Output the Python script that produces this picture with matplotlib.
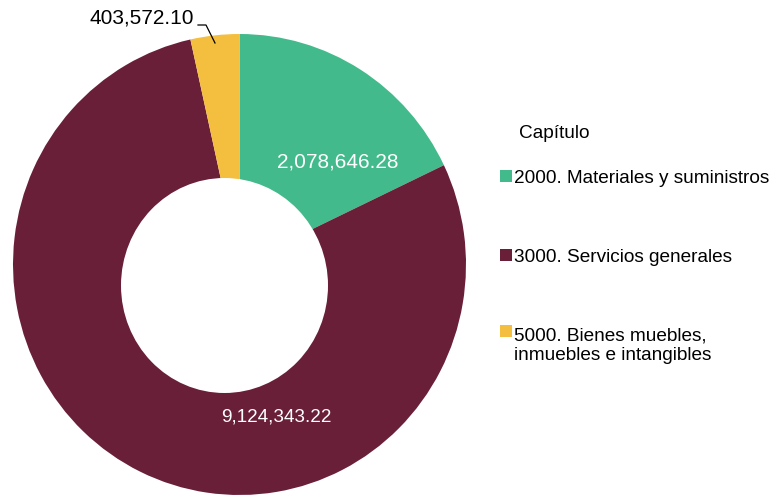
import matplotlib
matplotlib.use("Agg")
import matplotlib.pyplot as plt
from matplotlib.patches import Ellipse, Rectangle

categories = ["2000. Materiales y suministros", "3000. Servicios generales",
              "5000. Bienes muebles,\ninmuebles e intangibles"]
values = [2078646.28, 9124343.22, 403572.10]
value_labels = ["2,078,646.28", "9,124,343.22", "403,572.10"]
colors = ["#43BA8B", "#6A1F38", "#F4BE3E"]
legend_title = "Capítulo"

plt.rcParams['font.family'] = ['Liberation Sans', 'DejaVu Sans']

W, H = 776, 497
fig = plt.figure(figsize=(W / 100, H / 100), dpi=100)

# outer pie extents in pixels (left, right, top, bottom)
L, R, T, B = 13, 466, 34, 495
ax = fig.add_axes([L / W, (H - B) / H, (R - L) / W, (B - T) / H])
wedges, _ = ax.pie(values, colors=colors, startangle=90, counterclock=False,
                   radius=1.0, wedgeprops=dict(linewidth=0))
ax.set_xlim(-1, 1)
ax.set_ylim(-1, 1)
ax.set_aspect('auto')
ax.axis('off')

def px(x, y):
    return (2 * (x - L) / (R - L) - 1, 1 - 2 * (y - T) / (B - T))

# off-centre hole
hx, hy = px(224.5, 285.5)
ax.add_patch(Ellipse((hx, hy), 2 * 103.5 / ((R - L) / 2),
                     2 * 107.5 / ((B - T) / 2), facecolor='white', edgecolor='none',
                     zorder=3))

ax.text(*px(338, 167), value_labels[0], color='white', fontsize=15,
        ha='center', va='baseline', zorder=5)
ax.text(*px(276.5, 422), value_labels[1], color='white', fontsize=13.6,
        ha='center', va='baseline', zorder=5)
ax.text(*px(194, 23), value_labels[2], color='black', fontsize=15,
        ha='right', va='baseline', clip_on=False, zorder=5)
lx, ly = zip(px(198, 25), px(206, 25), px(215, 43))
ax.plot(lx, ly, color='black', lw=0.9, clip_on=False, zorder=5)

# legend
lfs = 13.7
line_px = 22
fig.text(519 / W, 1 - 138 / H, legend_title, fontsize=lfs, ha='left', va='baseline')
entry_y = [176, 255, 331]
for lab, col, yc in zip(categories, colors, entry_y):
    fig.add_artist(Rectangle((500 / W, 1 - (yc + 6) / H), 12 / W, 12 / H,
                             facecolor=col, edgecolor='none',
                             transform=fig.transFigure))
    nlines = lab.count("\n")
    base = yc + 7 + nlines * line_px
    fig.text(514 / W, 1 - base / H, lab, fontsize=lfs, ha='left', va='baseline',
             linespacing=line_px / (lfs * 100 / 72 * 1.2) * 1.2)

fig.savefig("out.png", dpi=100)
